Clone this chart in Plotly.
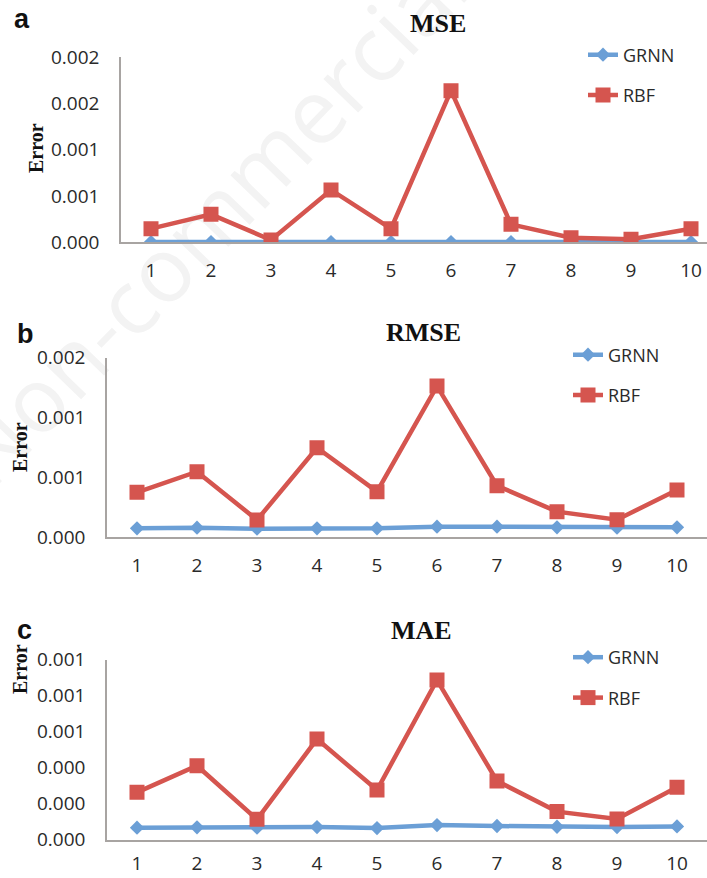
import plotly.graph_objects as go

W, H = 707, 878

runs = [1, 2, 3, 4, 5, 6, 7, 8, 9, 10]

mse_grnn = [0.000002, 0.000002, 0.000002, 0.000002, 0.000002, 0.000002, 0.000002, 0.000002, 0.000002, 0.000002]
mse_rbf = [0.000147, 0.000302, 0.000025, 0.000565, 0.000147, 0.001637, 0.000194, 0.000050, 0.000032, 0.000147]

rmse_grnn = [0.000075, 0.000080, 0.000072, 0.000075, 0.000075, 0.000089, 0.000089, 0.000083, 0.000080, 0.000083]
rmse_rbf = [0.000376, 0.000548, 0.000145, 0.000748, 0.000381, 0.001263, 0.000431, 0.000214, 0.000147, 0.000395]

mae_grnn = [0.0000667, 0.0000685, 0.0000667, 0.0000704, 0.0000648, 0.0000815, 0.0000760, 0.0000720, 0.0000704, 0.0000740]
mae_rbf = [0.000263, 0.000411, 0.000113, 0.000559, 0.000276, 0.000887, 0.000326, 0.000156, 0.000115, 0.000291]

titles = ["MSE", "RMSE", "MAE"]
letters = ["a", "b", "c"]
y_max = [0.002, 0.0015, 0.001]
y_step = [0.0005, 0.0005, 0.0002]

BLUE = "#6B9FD6"
RED = "#D5554F"
AXIS = "#A8A4A2"
TXT = "#2a2a2a"

# layout geometry (px)
panels = [
    dict(top=57, bottom=242.3, left=121, xr=10.5 - 14 / 60.0, title_y=23, title_x=438,
         letter=(22, 19), err=(36, 148), leg_y=50.5, xstand=10),
    dict(top=357.7, bottom=537.3, left=107, xr=10.5, title_y=332, title_x=423,
         letter=(25, 334), err=(20, 447), leg_y=350.5, xstand=10),
    dict(top=659.7, bottom=839.7, left=107, xr=10.5, title_y=630, title_x=422,
         letter=(24, 630), err=(20, 669), leg_y=653, xstand=6),
]
leg_text_x = [627, 612, 612]

fig = go.Figure()
series = [(mse_grnn, mse_rbf), (rmse_grnn, rmse_rbf), (mae_grnn, mae_rbf)]

for i, (g, r) in enumerate(series):
    sfx = "" if i == 0 else str(i + 1)
    leg = "legend" + sfx
    fig.add_trace(go.Scatter(
        x=runs, y=g, name="GRNN", mode="lines+markers",
        line=dict(color=BLUE, width=4.5),
        marker=dict(symbol="diamond", size=11, color=BLUE),
        xaxis="x" + sfx, yaxis="y" + sfx, legend=leg, legendgroup="g" + str(i)))
    fig.add_trace(go.Scatter(
        x=runs, y=r, name="RBF", mode="lines+markers",
        line=dict(color=RED, width=4.5),
        marker=dict(symbol="square", size=15, color=RED),
        xaxis="x" + sfx, yaxis="y" + sfx, legend=leg, legendgroup="r" + str(i)))

annotations = []
layout = dict(
    width=W, height=H, margin=dict(l=0, r=0, t=0, b=0, autoexpand=False),
    paper_bgcolor="white", plot_bgcolor="white", showlegend=True,
)

for i, p in enumerate(panels):
    sfx = "" if i == 0 else str(i + 1)
    ydom = [1 - p["bottom"] / H, 1 - p["top"] / H]
    xdom = [p["left"] / W, 1]
    layout["xaxis" + sfx] = dict(
        domain=xdom, range=[0.5, p["xr"]], anchor="y" + sfx, automargin=False,
        tickvals=runs, ticks="", showgrid=False, zeroline=False,
        showline=True, linecolor=AXIS, linewidth=1.5,
        tickfont=dict(family="Open Sans", size=19, color=TXT),
        ticklabelstandoff=p["xstand"],
    )
    layout["yaxis" + sfx] = dict(
        domain=ydom, range=[0, y_max[i]], anchor="x" + sfx, automargin=False,
        dtick=y_step[i], tick0=0, tickformat=".3f", ticks="",
        showgrid=False, zeroline=False, showline=True, linecolor=AXIS, linewidth=1.5,
        tickfont=dict(family="Open Sans", size=19, color=TXT),
        ticklabelstandoff=16,
    )
    layout["legend" + sfx] = dict(
        x=(leg_text_x[i] - 44) / W, xanchor="left",
        y=1 - (p["leg_y"] - 14) / H, yanchor="top",
        bgcolor="rgba(0,0,0,0)", tracegroupgap=14,
        font=dict(family="Open Sans", size=18, color=TXT),
        traceorder="grouped",
    )
    annotations.append(dict(
        text="<b>" + titles[i] + "</b>", x=p["title_x"] / W, y=1 - p["title_y"] / H,
        xref="paper", yref="paper", showarrow=False, xanchor="center", yanchor="middle",
        font=dict(family="Liberation Serif", size=26, color="#111")))
    annotations.append(dict(
        text="<b>" + letters[i] + "</b>", x=p["letter"][0] / W, y=1 - p["letter"][1] / H,
        xref="paper", yref="paper", showarrow=False, xanchor="center", yanchor="middle",
        font=dict(family="Liberation Sans", size=27, color="#111")))
    annotations.append(dict(
        text="<b>Error</b>", x=p["err"][0] / W, y=1 - p["err"][1] / H, textangle=-90,
        xref="paper", yref="paper", showarrow=False, xanchor="center", yanchor="middle",
        font=dict(family="Liberation Serif", size=20, color="#111")))

layout["annotations"] = annotations

# faint watermark behind the charts
cx, cy, half = 212, 222, 320
dx, dy = 0.695 * half, 0.719 * half
layout["shapes"] = [dict(
    type="line", xref="paper", yref="paper", layer="below",
    x0=(cx - dx) / W, y0=1 - (cy + dy) / H, x1=(cx + dx) / W, y1=1 - (cy - dy) / H,
    line=dict(color="rgba(0,0,0,0)", width=0),
    label=dict(text="Non-commercial", textposition="middle", yanchor="middle",
               font=dict(family="Open Sans", size=90, color="#f3f3f3")),
)]

fig.update_layout(**layout)
fig.write_html("out.html")
